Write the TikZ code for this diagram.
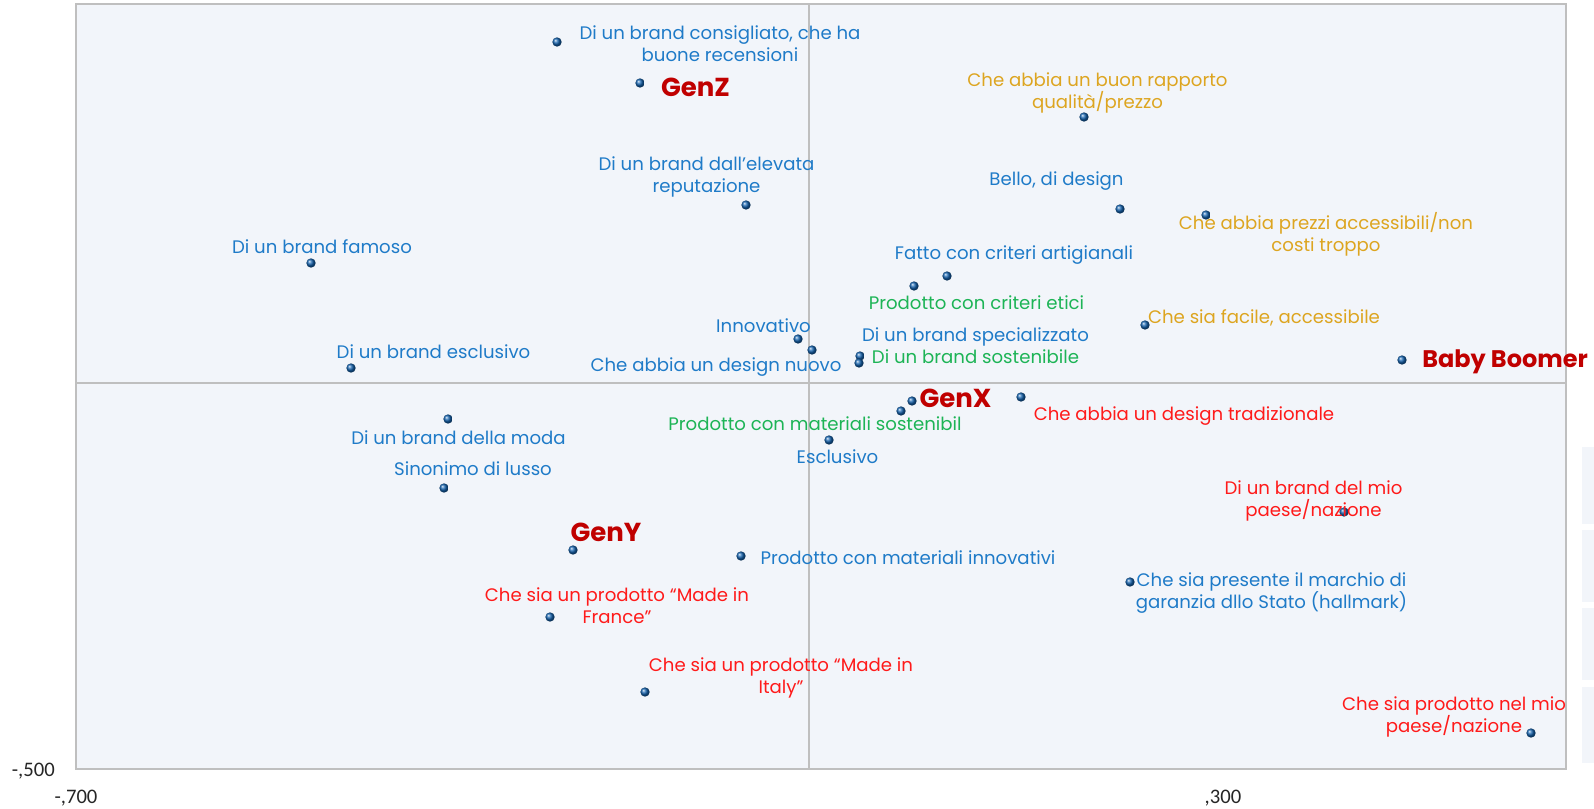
\documentclass[tikz,border=0pt]{standalone}
\usepackage{fontspec}
\setmainfont{Poppins}
\newfontfamily\axisfont{Carlito}
\definecolor{lblue}{HTML}{1F7BC8}
\definecolor{lgold}{HTML}{DDA520}
\definecolor{lgreen}{HTML}{1DB456}
\definecolor{lred}{HTML}{FF1A1A}
\definecolor{gred}{HTML}{C00000}
\definecolor{dotblue}{HTML}{1462AE}
\definecolor{plotbg}{HTML}{F2F5FA}
\definecolor{framegray}{HTML}{BFBFBF}
\definecolor{axistext}{HTML}{262626}
\tikzset{
  dot/.style={circle, inner sep=0pt, minimum size=7pt, ball color=dotblue},
  lbl/.style={inner sep=0pt, align=center, font=\fontsize{13.6pt}{16.5pt}\selectfont},
  lb/.style={lbl, text=lblue},
  lg/.style={lbl, text=lgold},
  lgr/.style={lbl, text=lgreen},
  lr/.style={lbl, text=lred},
  gen/.style={inner sep=0pt, text=gred, font=\fontsize{19.5pt}{23pt}\selectfont\bfseries},
  axl/.style={inner sep=0pt, text=axistext, font=\axisfont\fontsize{15.5pt}{18pt}\selectfont},
  frame/.style={draw=framegray, line width=1.5pt},
  leg/.style={fill=plotbg, draw=none}
}
\begin{document}
\begin{tikzpicture}[x=0.75pt,y=-0.75pt]
\useasboundingbox (0,0) rectangle (1594,809);
\fill[white] (0,0) rectangle (1594,809);
% plot area
\fill[plotbg] (76,4) rectangle (1566,769);
\draw[frame] (809,4) -- (809,769);
\draw[frame] (76,383) -- (1566,383);
\draw[frame] (76,4) rectangle (1566,769);
% legend fragments at right edge
\fill[leg] (1582,447) rectangle (1594,524);
\fill[leg] (1582,530) rectangle (1594,602);
\fill[leg] (1582,608) rectangle (1594,680);
\fill[leg] (1582,687) rectangle (1594,763);
% axis labels
\node[axl, anchor=east] (ya) at (55,771) {-,500};
\node[axl] (xa) at (76,798) {-,700};
\node[axl] (xb) at (1223,798) {,300};
% dots
\node[dot] (d1) at (557,42) {};
\node[dot] (d2) at (640,83) {};
\node[dot] (d3) at (746,205) {};
\node[dot] (d4) at (1084,117) {};
\node[dot] (d5) at (1120,209) {};
\node[dot] (d6) at (1206,215) {};
\node[dot] (d7) at (311,263) {};
\node[dot] (d8) at (947,276) {};
\node[dot] (d9) at (914,286) {};
\node[dot] (d10) at (1145,325) {};
\node[dot] (d11) at (798,339) {};
\node[dot] (d12) at (812,350) {};
\node[dot] (d13) at (860,356) {};
\node[dot] (d14) at (859,363) {};
\node[dot] (d15) at (351,368) {};
\node[dot] (d16) at (1402,360) {};
\node[dot] (d17) at (912,401) {};
\node[dot] (d18) at (1021,397) {};
\node[dot] (d19) at (901,411) {};
\node[dot] (d20) at (448,419) {};
\node[dot] (d21) at (829,440) {};
\node[dot] (d22) at (444,488) {};
\node[dot] (d23) at (1344,512) {};
\node[dot] (d24) at (573,550) {};
\node[dot] (d25) at (741,556) {};
\node[dot] (d26) at (1130,582) {};
\node[dot] (d27) at (550,617) {};
\node[dot] (d28) at (645,692) {};
\node[dot] (d29) at (1531,733) {};
% labels
\node[lb] (l1) at (720,43.5) {Di un brand consigliato, che ha\\buone recensioni};
\node[gen] (l2) at (695.5,87) {GenZ};
\node[lb] (l3) at (706.5,176.5) {Di un brand dall’elevata\\reputazione};
\node[lg] (l4) at (1097.5,93) {Che abbia un buon rapporto\\qualità/prezzo};
\node[lb] (l5) at (1056.5,181) {Bello, di design};
\node[lg] (l6) at (1326,234) {Che abbia prezzi accessibili/non\\costi troppo};
\node[lb] (l7) at (322,247) {Di un brand famoso};
\node[lb] (l8) at (1014,255) {Fatto con criteri artigianali};
\node[lgr] (l9) at (976.5,303) {Prodotto con criteri etici};
\node[lg] (l10) at (1264,318) {Che sia facile, accessibile};
\node[lb] (l11) at (763.5,326) {Innovativo};
\node[lb] (l12) at (975.5,337) {Di un brand specializzato};
\node[lb] (l13) at (433.5,352) {Di un brand esclusivo};
\node[lgr] (l14) at (975.5,357) {Di un brand sostenibile};
\node[lb] (l15) at (716,367) {Che abbia un design nuovo};
\node[gen, anchor=west, font=\fontsize{18pt}{22pt}\selectfont\bfseries] (l16) at (1422,362) {Baby Boomer};
\node[gen] (l17) at (955.5,398) {GenX};
\node[lr] (l18) at (1184,416) {Che abbia un design tradizionale};
\node[lgr] (l19) at (815,424) {Prodotto con materiali sostenibil};
\node[lb] (l20) at (458.5,438) {Di un brand della moda};
\node[lb] (l21) at (837.5,457) {Esclusivo};
\node[lb] (l22) at (473,469) {Sinonimo di lusso};
\node[lr] (l23) at (1313.5,501) {Di un brand del mio\\paese/nazione};
\node[gen] (l24) at (606,532) {GenY};
\node[lb] (l25) at (908,558) {Prodotto con materiali innovativi};
\node[lb] (l26) at (1271.5,593.5) {Che sia presente il marchio di\\garanzia dllo Stato (hallmark)};
\node[lr] (l27) at (617,605.5) {Che sia un prodotto “Made in\\France”};
\node[lr] (l28) at (781,678) {Che sia un prodotto “Made in\\Italy”};
\node[lr] (l29) at (1454,717) {Che sia prodotto nel mio\\paese/nazione};
\end{tikzpicture}
\end{document}
